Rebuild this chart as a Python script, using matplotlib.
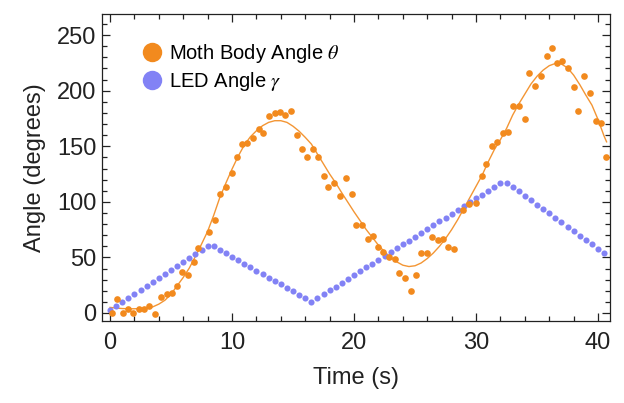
import matplotlib
matplotlib.use("Agg")
import matplotlib.pyplot as plt
from matplotlib.lines import Line2D

plt.rcParams['font.family'] = ['Liberation Sans', 'DejaVu Sans']
plt.rcParams['mathtext.fontset'] = 'stix'

# LED angle, sampled every 0.5 s
led_t = [0.0, 0.5, 1.0, 1.5, 2.0, 2.5, 3.0, 3.5, 4.0, 4.5, 5.0, 5.5, 6.0, 6.5, 7.0, 7.5, 8.0,
         8.5, 9.0, 9.5, 10.0, 10.5, 11.0, 11.5, 12.0, 12.5, 13.0, 13.5, 14.0, 14.5, 15.0, 15.5, 16.0, 16.5,
         17.0, 17.5, 18.0, 18.5, 19.0, 19.5, 20.0, 20.5, 21.0, 21.5, 22.0, 22.5, 23.0, 23.5, 24.0, 24.5,
         25.0, 25.5, 26.0, 26.5, 27.0, 27.5, 28.0, 28.5, 29.0, 29.5, 30.0, 30.5, 31.0, 31.5, 32.0,
         32.5, 33.0, 33.5, 34.0, 34.5, 35.0, 35.5, 36.0, 36.5, 37.0, 37.5, 38.0, 38.5, 39.0, 39.5, 40.0, 40.5]
led_angle = [3.0, 6.6, 10.2, 13.8, 17.4, 21.0, 24.6, 28.2, 31.8, 35.4, 39.0, 42.6, 46.2, 49.8, 53.4, 57.0, 60.6,
             60.1, 57.0, 53.9, 50.7, 47.6, 44.5, 41.3, 38.2, 35.1, 31.9, 28.8, 25.7, 22.5, 19.4, 16.3, 13.1, 10.0,
             13.4, 16.9, 20.3, 23.8, 27.2, 30.7, 34.1, 37.6, 41.0, 44.5, 47.9, 51.4, 54.8, 58.3, 61.7, 65.2,
             68.6, 72.1, 75.5, 79.0, 82.4, 85.9, 89.3, 92.8, 96.2, 99.7, 103.1, 106.6, 110.0, 113.5, 116.9,
             117.4, 113.4, 109.5, 105.5, 101.5, 97.5, 93.6, 89.6, 85.6, 81.6, 77.6, 73.7, 69.7, 65.7, 61.7, 57.8, 53.8]

# measured moth body angle
moth_t = [0.14, 0.6, 1.04, 1.45, 1.9, 2.38, 2.81, 3.2, 3.69, 4.15, 4.65, 5.1, 5.46, 5.93, 6.39, 6.89,
          7.19, 8.1, 8.6, 9.0, 9.48, 9.97, 10.44, 10.8, 11.25, 11.75, 12.21, 12.57, 13.03, 13.52, 13.93,
          14.34, 14.81, 15.3, 15.74, 16.12, 16.61, 17.08, 17.54, 17.9, 18.36, 18.85, 19.34, 19.81, 20.16,
          20.63, 21.12, 21.58, 21.94, 22.4, 22.9, 23.36, 23.69, 24.18, 24.65, 25.08, 25.47, 25.96, 26.42,
          26.86, 27.27, 27.73, 28.2, 28.96, 29.45, 29.97, 30.46, 30.82, 31.29, 31.75, 32.24, 32.6, 33.06,
          33.55, 34.02, 34.37, 34.84, 35.3, 35.79, 36.25, 36.61, 37.07, 37.57, 38.03, 38.39, 38.85, 39.34,
          39.81, 40.22, 40.63]
moth_angle = [0.0, 12.3, 0.3, 3.3, 0.3, 3.3, 3.3, 6.3, -1.2, 14.1, 17.1, 18.3, 24.3, 36.6, 34.2, 45.6,
              58.7, 73.0, 83.6, 106.7, 113.0, 126.2, 140.6, 151.7, 152.6, 157.6, 165.2, 161.6, 177.2, 179.6, 180.8,
              178.0, 182.0, 160.0, 147.2, 140.6, 147.2, 140.6, 123.2, 113.0, 117.2, 105.2, 121.1, 106.7, 79.1,
              79.1, 66.3, 69.2, 59.6, 55.1, 50.6, 48.6, 35.7, 31.2, 20.0, 34.2, 53.7, 53.7, 68.1,
              65.6, 66.5, 59.6, 57.6, 92.6, 97.8, 99.2, 123.5, 133.7, 150.2, 153.5, 161.6, 162.5, 186.2,
              186.2, 174.2, 216.1, 204.1, 213.4, 231.4, 238.0, 225.1, 226.6, 220.0, 203.0, 182.0, 213.4, 198.1,
              172.9, 170.6, 140.6]

# smooth fit through the moth angle, read every 0.5 s
fit_t = led_t + [40.7]
fit_angle = [5.0, 4.5, 4.0, 3.8, 3.8, 4.0, 4.5, 5.5, 8.0, 11.5, 17.0, 24.5, 32.0, 40.5, 51.0, 62.0, 73.5,
             88.0, 104.0, 117.0, 129.5, 141.0, 151.0, 158.5, 164.0, 168.5, 171.5, 173.0, 173.0, 171.5, 168.0,
             163.5, 158.0, 152.0, 143.0, 134.0, 125.0, 117.0, 108.0, 99.5, 91.0, 83.0, 75.0, 68.0, 61.0, 55.0,
             50.0, 46.0, 43.0, 41.8, 42.5, 45.0, 49.0, 54.0, 60.0, 67.0, 75.0, 84.0, 94.0, 104.0, 114.0, 124.0,
             136.0, 147.0, 156.0, 166.0, 178.0, 188.0, 197.0, 206.0, 213.0, 218.5, 222.5, 224.5, 224.0, 220.5,
             214.0, 205.5, 196.0, 187.0, 174.0, 159.0, 154.0]

orange = '#F28A1E'
blue = '#8282F5'

fig = plt.figure(figsize=(6.24, 4.03), dpi=100)
ax = fig.add_axes([102 / 624, 82 / 403, 508 / 624, 307 / 403])

ax.plot(fit_t, fit_angle, color=orange, lw=1.0, alpha=0.9, zorder=2)
ax.plot(led_t, led_angle, 'o', color=blue, ms=4.4, mew=0, zorder=3)
ax.plot(moth_t, moth_angle, 'o', color=orange, ms=4.8, mew=0, zorder=4)

ax.set_xlim(-0.66, 40.98)
ax.set_ylim(-7.2, 269)
ax.set_xticks([0, 10, 20, 30, 40])
ax.set_xticks(range(0, 42, 2), minor=True)
ax.set_yticks([0, 50, 100, 150, 200, 250])
ax.set_yticks(range(0, 270, 10), minor=True)
ax.tick_params(which='both', direction='in', top=True, right=True, colors='#222222',
               labelsize=17, width=0.9)
ax.tick_params(which='major', length=6)
ax.tick_params(axis='x', which='major', pad=8)
ax.tick_params(axis='y', which='major', pad=4)
ax.tick_params(which='minor', length=3.5)
for s in ax.spines.values():
    s.set_linewidth(0.9)
    s.set_color('#222222')

ax.set_xlabel('Time (s)', fontsize=17, color='#222222', labelpad=9)
ax.set_ylabel('Angle (degrees)', fontsize=17, color='#222222', labelpad=8)

handles = [Line2D([], [], marker='o', ls='', color=orange, ms=14, mew=0),
           Line2D([], [], marker='o', ls='', color=blue, ms=14, mew=0)]
ax.legend(handles, [r'Moth Body Angle $\theta$', r'LED Angle $\gamma$'],
          loc='upper left', bbox_to_anchor=(0.06, 0.935), frameon=False, fontsize=14.5,
          handletextpad=0.3, labelspacing=0.25, handlelength=1.1, borderaxespad=0)

fig.savefig('out.png', dpi=100)
